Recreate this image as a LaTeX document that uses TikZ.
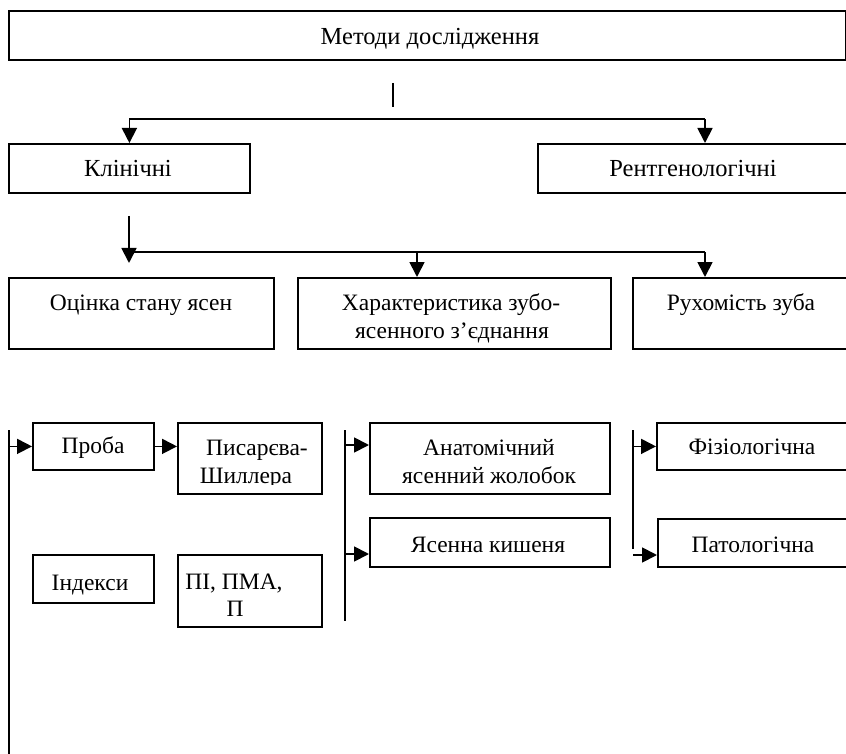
\documentclass[tikz,border=0pt]{standalone}
\usepackage{fontspec}
\setmainfont{Liberation Serif}
\usetikzlibrary{arrows.meta}
\begin{document}
\begin{tikzpicture}[x=1pt,y=-1pt,
  box/.style={draw, line width=1.8pt, rectangle, inner sep=0pt, anchor=north west},
  lbl/.style={anchor=base, inner sep=0pt, font=\fontsize{23.5}{28}\selectfont},
  toplbl/.style={lbl, font=\fontsize{24.5}{29}\selectfont},
  conn/.style={line width=1.8pt},
  arr/.style={line width=1.8pt, -{Triangle[length=15pt,width=15pt]}}]
\useasboundingbox (0,0) rectangle (846,754);

% boxes
\node[box, minimum width=837pt, minimum height=49pt] (top) at (8,10) {};
\node[box, minimum width=241pt, minimum height=49pt] (kl) at (8,143) {};
\node[box, minimum width=320pt, minimum height=49pt] (rent) at (537,143) {};
\node[box, minimum width=265pt, minimum height=71pt] (gum) at (8,277) {};
\node[box, minimum width=313pt, minimum height=71pt] (joint) at (297,277) {};
\node[box, minimum width=225pt, minimum height=71pt] (mob) at (632,277) {};
\node[box, minimum width=121pt, minimum height=47pt] (proba) at (32,422) {};
\node[box, minimum width=144pt, minimum height=71pt] (pis) at (177,422) {};
\node[box, minimum width=121pt, minimum height=48pt] (ind) at (32,554) {};
\node[box, minimum width=144pt, minimum height=72pt] (pi) at (177,554) {};
\node[box, minimum width=240pt, minimum height=71pt] (anat) at (369,422) {};
\node[box, minimum width=240pt, minimum height=49pt] (pocket) at (369,517) {};
\node[box, minimum width=200pt, minimum height=47pt] (fiz) at (656,422) {};
\node[box, minimum width=200pt, minimum height=48pt] (pat) at (657,518) {};

% texts
\node[toplbl] (ttop) at (430,45) {Методи дослідження};
\node[toplbl] (tkl) at (128,177) {Клінічні};
\node[toplbl] (trent) at (693,177) {Рентгенологічні};
\node[lbl] (tgum) at (141,310) {Оцінка стану ясен};
\node[lbl] (tjointa) at (451,310) {Характеристика зубо-};
\node[lbl] (tjointb) at (452,338) {ясенного з’єднання};
\node[lbl] (tmob) at (741,310) {Рухомість зуба};
\node[lbl] (tproba) at (93,453) {Проба};
\node[lbl] (tpisa) at (257,455) {Писарєва-};
\begin{scope}
  \clip (177,422) rectangle (321,484);
  \node[lbl] (tpisb) at (246,483) {Шиллера};
\end{scope}
\node[lbl] (tind) at (90,590) {Індекси};
\node[lbl] (tpia) at (234,589) {ПІ, ПМА,};
\node[lbl] (tpib) at (235,616) {П};
\node[lbl] (tanata) at (489,455) {Анатомічний};
\node[lbl] (tanatb) at (489,483) {ясенний жолобок};
\node[lbl] (tpocket) at (488,552) {Ясенна кишеня};
\node[lbl] (tfiz) at (752,454) {Фізіологічна};
\node[lbl] (tpat) at (753,552) {Патологічна};

% top connectors
\coordinate (s1) at (393,83);
\coordinate (s2) at (393,107);
\draw[conn] (s1) -- (s2);
\coordinate (h2) at (705,119);
\draw[arr] (h2) -| (kl.north);
\draw[arr] (h2) -- (h2 |- rent.north);

% second level
\coordinate (v1) at (129,216);
\coordinate (v2) at (129,263);
\draw[arr] (v1) -- (v2);
\coordinate (h3) at (129,252);
\coordinate (h5) at (417,252);
\coordinate (h4) at (705,252);
\draw[conn] (h3) -- (h4);
\draw[arr] (h5) -- (h5 |- joint.north);
\draw[arr] (h4) -- (h4 |- mob.north);

% left branch
\coordinate (L1) at (9,430);
\coordinate (L2) at (9,754);
\draw[conn] (L1) -- (L2);
\draw[arr] (proba.west -| L1) -- (proba.west);
\draw[arr] (proba.east) -- (proba.east -| pis.west);

% middle branch
\coordinate (M1) at (345,430);
\coordinate (M2) at (345,621);
\draw[conn] (M1) -- (M2);
\coordinate (ma) at (345,445);
\coordinate (mb) at (345,554);
\draw[arr] (ma) -- (ma -| anat.west);
\draw[arr] (mb) -- (mb -| pocket.west);

% right branch
\coordinate (R1) at (633,430);
\coordinate (R2) at (633,549);
\draw[conn] (R1) -- (R2);
\draw[arr] (fiz.west -| R1) -- (fiz.west);
\coordinate (rb) at (633,555);
\draw[arr] (rb) -- (rb -| pat.west);
\end{tikzpicture}
\end{document}
